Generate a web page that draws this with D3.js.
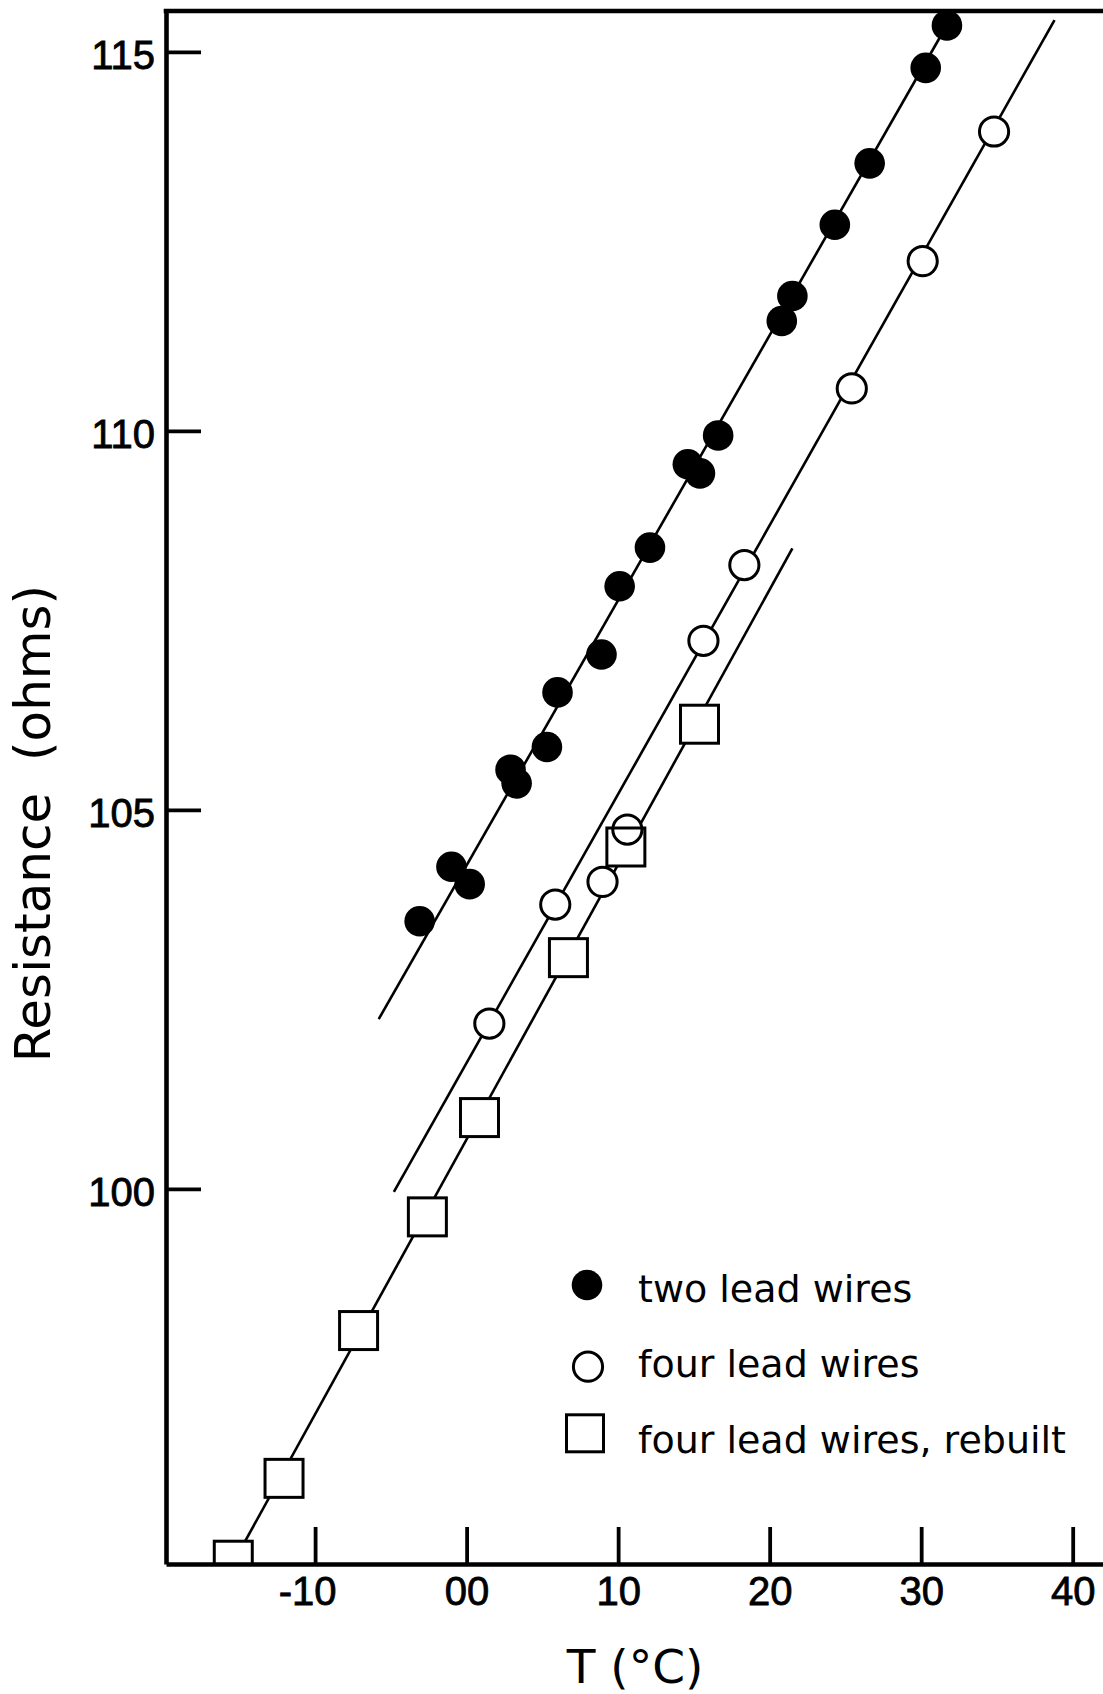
<!DOCTYPE html>
<html>
<head>
<meta charset="utf-8">
<script src="https://cdn.jsdelivr.net/npm/d3@7"></script>
<style>
  html, body { margin: 0; padding: 0; background: #fff; }
  svg { display: block; }
  .ytitle { white-space: pre; }
</style>
</head>
<body>
<svg id="chart" width="1103" height="1694"></svg>
<script>
// Resistance of the sensor versus temperature for three wiring set-ups

// two lead wires (filled circles)
const twoLeadT = [-3.1, -1.0, 0.2, 2.9, 3.3, 5.3, 6.0, 8.9, 10.1, 12.1, 14.6, 15.4, 16.6, 20.8, 21.5, 24.3, 26.6, 30.3, 31.7];
const twoLeadR = [103.53, 104.25, 104.02, 105.53, 105.35, 105.83, 106.55, 107.05, 107.95, 108.46, 109.56, 109.44, 109.94, 111.45, 111.78, 112.72, 113.53, 114.79, 115.35];

// four lead wires (open circles)
const fourLeadT = [1.5, 5.85, 8.97, 10.61, 15.63, 18.33, 25.42, 30.10, 34.81];
const fourLeadR = [102.18, 103.75, 104.05, 104.74, 107.23, 108.23, 110.56, 112.24, 113.95];

// four lead wires, rebuilt (open squares)
const rebuiltT = [-15.4, -12.05, -7.13, -2.59, 0.85, 6.72, 10.51, 15.37];
const rebuiltR = [95.10, 96.18, 98.13, 99.63, 100.94, 103.05, 104.51, 106.13];

// straight-line fits, given by their end points
const twoLeadFitT = [-5.8, 32.2];
const twoLeadFitR = [102.24, 115.53];
const fourLeadFitT = [-4.8, 38.8];
const fourLeadFitR = [99.96, 115.42];
const rebuiltFitT = [-16.0, 21.5];
const rebuiltFitR = [94.85, 108.45];

// axes
const xTicks = [-10, 0, 10, 20, 30, 40];
const xTickLabels = ["-10", "00", "10", "20", "30", "40"];
const yTicks = [100, 105, 110, 115];
const yTickLabels = ["100", "105", "110", "115"];
const xDomain = [-19.84, 42.0];
const yDomain = [95.05, 115.54];

const legendLabels = ["two lead wires", "four lead wires", "four lead wires, rebuilt"];
const xTitle = "T (°C)";
const yTitle = "Resistance  (ohms)";

const svg = d3.select("#chart");
const W = 1103, H = 1694;
const plot = { left: 166, right: 1103, top: 11, bottom: 1564 };

svg.append("rect").attr("width", W).attr("height", H).attr("fill", "#fff");

const x = d3.scaleLinear().domain(xDomain).range([plot.left, plot.right]);
const y = d3.scaleLinear().domain(yDomain).range([plot.bottom, plot.top]);

const tickFont = "'Liberation Sans Narrow', 'Liberation Sans', Arial, sans-serif";
const textFont = "'DejaVu Sans', Verdana, sans-serif";

svg.append("clipPath").attr("id", "plotClip")
  .append("rect")
  .attr("x", plot.left).attr("y", plot.top)
  .attr("width", plot.right - plot.left).attr("height", plot.bottom - plot.top);

const g = svg.append("g").attr("clip-path", "url(#plotClip)");

// fit lines
const fits = [
  [twoLeadFitT, twoLeadFitR],
  [fourLeadFitT, fourLeadFitR],
  [rebuiltFitT, rebuiltFitR]
];
const line = d3.line().x(d => x(d[0])).y(d => y(d[1]));
fits.forEach(([ts, rs]) => {
  g.append("path")
    .datum(ts.map((t, i) => [t, rs[i]]))
    .attr("d", line)
    .attr("fill", "none")
    .attr("stroke", "#000")
    .attr("stroke-width", 2.6);
});

const zip = (ts, rs) => ts.map((t, i) => ({ t, r: rs[i] }));
const twoLead = zip(twoLeadT, twoLeadR);
const fourLead = zip(fourLeadT, fourLeadR);
const rebuilt = zip(rebuiltT, rebuiltR);

const sq = 38;    // square side
const rOpen = 14.6;
const rFill = 15.3;

// white backing for open markers (hides the fit lines behind them)
g.selectAll("rect.sqFill").data(rebuilt).join("rect")
  .attr("class", "sqFill")
  .attr("x", d => x(d.t) - sq / 2).attr("y", d => y(d.r) - sq / 2)
  .attr("width", sq).attr("height", sq)
  .attr("fill", "#fff");
g.selectAll("circle.openFill").data(fourLead).join("circle")
  .attr("class", "openFill")
  .attr("cx", d => x(d.t)).attr("cy", d => y(d.r)).attr("r", rOpen)
  .attr("fill", "#fff");

// outlines drawn over the backing so overlapping markers both stay visible
g.selectAll("rect.sq").data(rebuilt).join("rect")
  .attr("class", "sq")
  .attr("x", d => x(d.t) - sq / 2).attr("y", d => y(d.r) - sq / 2)
  .attr("width", sq).attr("height", sq)
  .attr("fill", "none").attr("stroke", "#000").attr("stroke-width", 3);
g.selectAll("circle.open").data(fourLead).join("circle")
  .attr("class", "open")
  .attr("cx", d => x(d.t)).attr("cy", d => y(d.r)).attr("r", rOpen)
  .attr("fill", "none").attr("stroke", "#000").attr("stroke-width", 3);

g.selectAll("circle.filled").data(twoLead).join("circle")
  .attr("class", "filled")
  .attr("cx", d => x(d.t)).attr("cy", d => y(d.r)).attr("r", rFill)
  .attr("fill", "#000");

// axes
const yAxis = d3.axisLeft(y)
  .tickValues(yTicks)
  .tickFormat((d, i) => yTickLabels[i])
  .tickSizeInner(-35).tickSizeOuter(0).tickPadding(11);
const yG = svg.append("g").attr("transform", `translate(${plot.left},0)`).call(yAxis);

const xAxis = d3.axisBottom(x)
  .tickValues(xTicks)
  .tickFormat((d, i) => xTickLabels[i])
  .tickSizeInner(-37).tickSizeOuter(0).tickPadding(13);
const xG = svg.append("g").attr("transform", `translate(0,${plot.bottom})`).call(xAxis);

[yG, xG].forEach(ax => {
  ax.select(".domain").attr("stroke", "#000").attr("stroke-width", 4.6);
  ax.selectAll(".tick line").attr("stroke", "#000").attr("stroke-width", 3.8);
  ax.selectAll(".tick text")
    .attr("fill", "#000")
    .attr("stroke", "#000")
    .attr("stroke-width", 0.8)
    .style("font-family", tickFont)
    .style("font-size", "40px");
});
yG.selectAll(".tick text").attr("dy", "0.42em");
xG.selectAll(".tick text").attr("dx", (d, i) => xTickLabels[i].startsWith("-") ? -8 : 0);

// top frame line
svg.append("line")
  .attr("x1", plot.left - 2.3).attr("x2", plot.right)
  .attr("y1", plot.top).attr("y2", plot.top)
  .attr("stroke", "#000").attr("stroke-width", 4.6);

// axis titles
svg.append("text")
  .attr("class", "ytitle")
  .attr("transform", `translate(50,${(plot.top + plot.bottom) / 2 + 36}) rotate(-90)`)
  .attr("text-anchor", "middle")
  .style("font-family", textFont)
  .style("font-size", "50px")
  .attr("fill", "#000")
  .text(yTitle);

svg.append("text")
  .attr("x", 635).attr("y", 1683)
  .attr("text-anchor", "middle")
  .style("font-family", textFont)
  .style("font-size", "47px")
  .attr("fill", "#000")
  .text(xTitle);

// legend
const legend = svg.append("g");
const legendRows = [1285, 1366.7, 1433.3];
const legendBaselines = [1302, 1377, 1453];
legend.append("circle").attr("cx", 587).attr("cy", legendRows[0]).attr("r", 15.3).attr("fill", "#000");
legend.append("circle").attr("cx", 588).attr("cy", legendRows[1]).attr("r", 14.6)
  .attr("fill", "#fff").attr("stroke", "#000").attr("stroke-width", 3);
legend.append("rect").attr("x", 585 - 18.5).attr("y", legendRows[2] - 18.5).attr("width", 37).attr("height", 37)
  .attr("fill", "#fff").attr("stroke", "#000").attr("stroke-width", 3);
legend.selectAll("text").data(legendLabels).join("text")
  .attr("x", 638)
  .attr("y", (d, i) => legendBaselines[i])
  .style("font-family", textFont)
  .style("font-size", "38px")
  .attr("fill", "#000")
  .text(d => d);
</script>
</body>
</html>
